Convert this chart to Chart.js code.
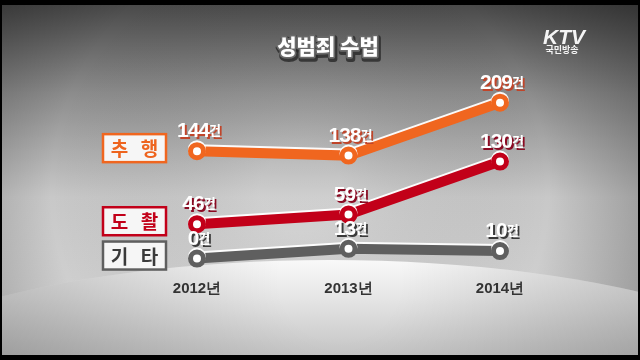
<!DOCTYPE html>
<html><head><meta charset="utf-8">
<script src="https://cdn.jsdelivr.net/npm/chart.js@4.4.0/dist/chart.umd.min.js"></script>
<style>html,body{margin:0;padding:0;background:#000;overflow:hidden}#wrap{width:640px;height:360px}</style>
</head><body><div id="wrap"><canvas id="c" width="640" height="360"></canvas></div>
<script>
const years = ['2012년', '2013년', '2014년'];
const seriesNames = ['추 행', '도 촬', '기 타'];
const molestation = [144, 138, 209];
const voyeurism = [46, 59, 130];
const others = [0, 13, 10];
const unit = '건';
const chartTitle = '성범죄 수법';

const lineColors = ['#f0661f', '#c20019', '#5f5f5f'];
const labelShadow = ['#c0452a', '#8a0a22', '#3a3a3a'];
const boxText = ['#ee641e', '#c20019', '#3a3a3a'];

const bgPlugin = {
  id: 'bg',
  beforeDraw(chart) {
    const ctx = chart.ctx;
    ctx.save();
    ctx.fillStyle = '#000';
    ctx.fillRect(0, 0, 640, 360);
    ctx.beginPath(); ctx.rect(2, 5, 636, 350); ctx.clip();
    const g = ctx.createLinearGradient(0, 5, 0, 300);
    g.addColorStop(0, '#4a4a4a');
    g.addColorStop(0.3, '#8c8c8c');
    g.addColorStop(0.65, '#c8c8c8');
    g.addColorStop(1, '#d0d0d0');
    ctx.fillStyle = g; ctx.fillRect(0, 0, 640, 360);
    const v = ctx.createRadialGradient(300, 190, 40, 300, 190, 420);
    v.addColorStop(0, 'rgba(255,255,255,0.12)');
    v.addColorStop(0.55, 'rgba(0,0,0,0)');
    v.addColorStop(1, 'rgba(0,0,0,0.38)');
    ctx.fillStyle = v; ctx.fillRect(0, 0, 640, 360);
    // dome
    ctx.beginPath(); ctx.ellipse(330, 423, 520, 163, 0, 0, Math.PI * 2);
    const d = ctx.createLinearGradient(0, 258, 0, 356);
    d.addColorStop(0, '#fafafa');
    d.addColorStop(0.4, '#e6e6e6');
    d.addColorStop(1, '#c4c4c4');
    ctx.fillStyle = d; ctx.fill();
    const dv = ctx.createRadialGradient(340, 280, 60, 340, 280, 380);
    dv.addColorStop(0, 'rgba(0,0,0,0)');
    dv.addColorStop(1, 'rgba(0,0,0,0.22)');
    ctx.fillStyle = dv; ctx.fill();
    ctx.restore();

    // title
    ctx.save();
    ctx.font = '900 21px "Noto Sans CJK KR"';
    ctx.textAlign = 'center'; ctx.textBaseline = 'middle';
    ctx.lineJoin = 'round';
    ctx.lineWidth = 6; ctx.strokeStyle = 'rgba(40,40,40,0.8)';
    ctx.strokeText(chartTitle, 329, 48);
    ctx.lineWidth = 3.5; ctx.strokeStyle = '#6a6a6a';
    ctx.strokeText(chartTitle, 328, 46);
    ctx.fillStyle = '#ffffff';
    ctx.fillText(chartTitle, 328, 46);
    // logo
    ctx.font = 'italic bold 21px "Liberation Sans"';
    ctx.fillStyle = '#f4f4f4';
    ctx.fillText('KTV', 564, 38);
    ctx.font = 'bold 9px "Noto Sans CJK KR"';
    ctx.fillText('국민방송', 562, 50);
    ctx.restore();
  },
  beforeDatasetDraw(chart) {
    const ctx = chart.ctx;
    ctx.shadowColor = 'rgba(255,255,255,0.95)';
    ctx.shadowOffsetX = 0; ctx.shadowOffsetY = -2; ctx.shadowBlur = 0;
  },
  afterDatasetDraw(chart) {
    const ctx = chart.ctx;
    ctx.shadowColor = 'rgba(0,0,0,0)';
    ctx.shadowOffsetX = 0; ctx.shadowOffsetY = 0; ctx.shadowBlur = 0;
  },
  afterDatasetsDraw(chart) {
    const ctx = chart.ctx;
    ctx.save();
    chart.data.datasets.forEach((ds, i) => {
      const meta = chart.getDatasetMeta(i);
      // category box
      const p0 = meta.data[0];
      const bx = 103, bw = 63, bh = 28, by = p0.y - 3 - bh / 2;
      ctx.fillStyle = '#f6f6f6';
      ctx.fillRect(bx, by, bw, bh);
      ctx.lineWidth = 2.5; ctx.strokeStyle = lineColors[i];
      ctx.strokeRect(bx, by, bw, bh);
      ctx.font = 'bold 19px "Noto Sans CJK KR"';
      ctx.textAlign = 'center'; ctx.textBaseline = 'middle';
      ctx.letterSpacing = '4px';
      ctx.fillStyle = boxText[i];
      ctx.fillText(ds.label, bx + bw / 2 + 2, by + bh / 2 + 1);
      ctx.letterSpacing = '0px';
      // value labels
      meta.data.forEach((pt, j) => {
        const num = String(ds.data[j]);
        ctx.textAlign = 'left'; ctx.textBaseline = 'alphabetic';
        ctx.font = 'bold 21px "Liberation Sans"';
        ctx.letterSpacing = '-1px';
        const w1 = ctx.measureText(num).width;
        ctx.font = 'bold 13px "Noto Sans CJK KR"';
        ctx.letterSpacing = '0px';
        const w2 = ctx.measureText(unit).width;
        const x0 = pt.x - (w1 + w2) / 2 + 2;
        const yb = pt.y - 14;
        const drawText = (dx, dy, color) => {
          ctx.fillStyle = color;
          ctx.font = 'bold 21px "Liberation Sans"';
          ctx.letterSpacing = '-1px';
          ctx.fillText(num, x0 + dx, yb + dy);
          ctx.font = 'bold 13px "Noto Sans CJK KR"';
          ctx.letterSpacing = '0px';
          ctx.fillText(unit, x0 + w1 + dx, yb - 2 + dy);
        };
        drawText(2, 2, labelShadow[i]);
        drawText(0, 0, '#ffffff');
      });
    });
    ctx.restore();
  }
};

const mkDs = (label, data, i) => ({
  label, data,
  borderColor: lineColors[i],
  borderWidth: 10,
  pointRadius: 6.5,
  pointHoverRadius: 6.5,
  pointBorderWidth: 5,
  pointBackgroundColor: '#ffffff',
  pointBorderColor: lineColors[i],
  tension: 0,
  clip: false
});

new Chart(document.getElementById('c'), {
  type: 'line',
  data: {
    labels: years,
    datasets: [
      mkDs(seriesNames[0], molestation, 0),
      mkDs(seriesNames[1], voyeurism, 1),
      mkDs(seriesNames[2], others, 2)
    ]
  },
  options: {
    responsive: false,
    animation: false,
    events: [],
    layout: { padding: { left: 197, right: 140, top: 87, bottom: 48 } },
    plugins: { legend: { display: false }, tooltip: { enabled: false }, title: { display: false } },
    scales: {
      y: { display: false, min: -10, max: 230 },
      x: {
        offset: false,
        grid: { display: false, drawTicks: false },
        border: { display: false },
        ticks: { color: '#333333', padding: 14, font: { family: 'Liberation Sans', weight: 'bold', size: 15 } }
      }
    }
  },
  plugins: [bgPlugin]
});
</script>
</body></html>
